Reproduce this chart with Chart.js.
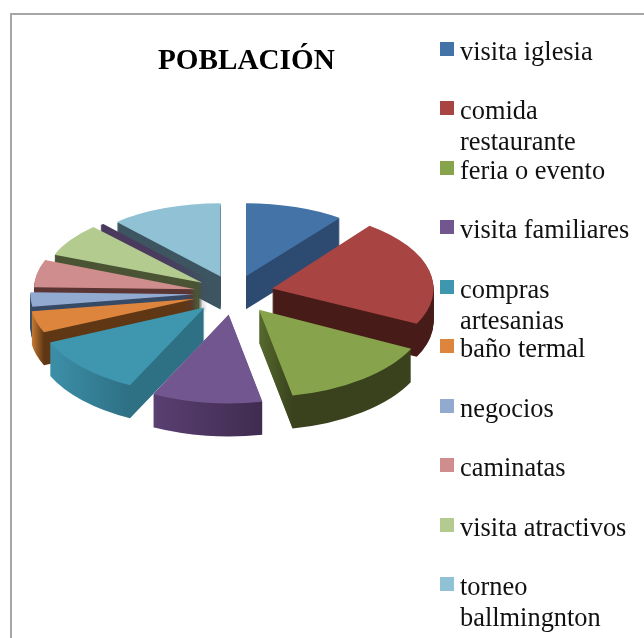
<!DOCTYPE html>
<html><head><meta charset="utf-8">
<style>html,body{margin:0;padding:0;background:#fff;overflow:hidden}canvas{display:block}</style>
<script src="https://cdn.jsdelivr.net/npm/chart.js@4"></script>
</head><body><canvas id="c" width="644" height="638"></canvas>
<script>
const chartTitle = "POBLACIÓN";
const categories = ["visita iglesia","comida restaurante","feria o evento","visita familiares","compras artesanias","baño termal","negocios","caminatas","visita atractivos","","torneo ballmingnton"];
const legendLines = [["visita iglesia"],["comida","restaurante"],["feria o evento"],["visita familiares"],["compras","artesanias"],["baño termal"],["negocios"],["caminatas"],["visita atractivos"],["torneo","ballmingnton"]];
const values = [10.3,22.0,14.5,10.4,11.1,4.2,2.8,5.6,7.0,0.4,11.6];
const topColors = ["#4473a8","#a84442","#87a44c","#71568f","#3f97af","#dd853c","#92a9d0","#cf8e8d","#b4cb90","#4a3a5e","#90c1d4"];
const wallLight = ["#2d4a70","#471b17","#566a2e","#5a3f72","#3c8fa8","#c87b34","#364a66","#5a3533","#4a5434","#4a3a5e","#3d5560"];
const wallDark  = ["#2d4a70","#471b17","#3a421d","#3f2c4f","#2e7084","#5f3714","#364a66","#5a3533","#4a5434","#4a3a5e","#3d5560"];

const cx = 234, cy = 293, pieR = 165, explode = 40, depth = 33;

const pie3d = {
  id:'pie3d',
  beforeDraw(chart){
    const ctx = chart.ctx;
    ctx.save();
    ctx.strokeStyle = '#a6a6a6'; ctx.lineWidth = 2;
    ctx.beginPath(); ctx.moveTo(11,640); ctx.lineTo(11,14); ctx.lineTo(646,14); ctx.stroke();
    ctx.fillStyle = '#000'; ctx.textBaseline='alphabetic'; ctx.textAlign='left';
    ctx.font = 'bold 29.2px "Liberation Serif"';
    ctx.fillText(chartTitle,158,69);
    ctx.font = '26.4px "Liberation Serif"';
    legendLines.forEach((lines,i)=>{
      const top = 42 + i*59.45;
      const col = topColors[categories.indexOf(lines.join(' '))];
      ctx.fillStyle = col; ctx.fillRect(440,Math.round(top),14,14);
      ctx.fillStyle = '#111';
      lines.forEach((t,j)=>ctx.fillText(t,460,Math.round(top)+17.5+j*31));
    });
    ctx.restore();
  },
  beforeDatasetsDraw(chart){
    const ctx = chart.ctx;
    const arcs = chart.getDatasetMeta(0).data.map((a,i)=>({a,i,mid:(a.startAngle+a.endAngle)/2}));
    arcs.sort((p,q)=>Math.sin(p.mid)-Math.sin(q.mid));
    const place = (p,dy)=>{
      const ratio = 0.49 + 0.05*Math.sin(p.mid);
      const sx = 0.99 + 0.05*Math.sin(p.mid);
      ctx.setTransform(1,0,0,1,0,0);
      ctx.translate(cx, cy+dy);
      ctx.scale(sx,ratio);
      ctx.translate(Math.cos(p.mid)*explode, Math.sin(p.mid)*explode);
      ctx.translate(-p.a.x,-p.a.y);
    };
    const drawWith = (p,fill)=>{
      const o = p.a.options;
      p.a.options = {backgroundColor:fill,borderColor:fill,borderWidth:0,offset:0,spacing:0,circular:true,borderRadius:0,borderAlign:'center'};
      p.a.draw(ctx);
      p.a.options = o;
    };
    ctx.save();
    arcs.forEach(p=>{
      const a = p.a, s=a.startAngle, e=a.endAngle;
      const xs=Math.cos(s)*pieR, xe=Math.cos(e)*pieR;
      let minX = Math.min(0,xs,xe), maxX = Math.max(0,xs,xe);
      if (s<=Math.PI && e>=Math.PI) minX=-pieR;
      const cornerX = Math.sin(s)>Math.sin(e)?xs:xe;
      const span = cornerX-minX>1 ? cornerX-minX : (maxX-minX)*0.3;
      const g = ctx.createLinearGradient(a.x+minX,0,a.x+minX+span,0);
      g.addColorStop(0,wallLight[p.i]); g.addColorStop(1,wallDark[p.i]);
      for(let d=depth;d>=1;d--){ place(p,d); drawWith(p,g); }
      place(p,0); drawWith(p,topColors[p.i]);
    });
    ctx.restore();
    ctx.setTransform(1,0,0,1,0,0);
    return false;
  }
};

new Chart(document.getElementById('c'),{
  type:'pie',
  data:{labels:categories,datasets:[{data:values,backgroundColor:topColors,borderWidth:0,radius:pieR}]},
  options:{responsive:false,animation:false,events:[],plugins:{legend:{display:false},title:{display:false},tooltip:{enabled:false}}},
  plugins:[pie3d]
});
</script></body></html>
